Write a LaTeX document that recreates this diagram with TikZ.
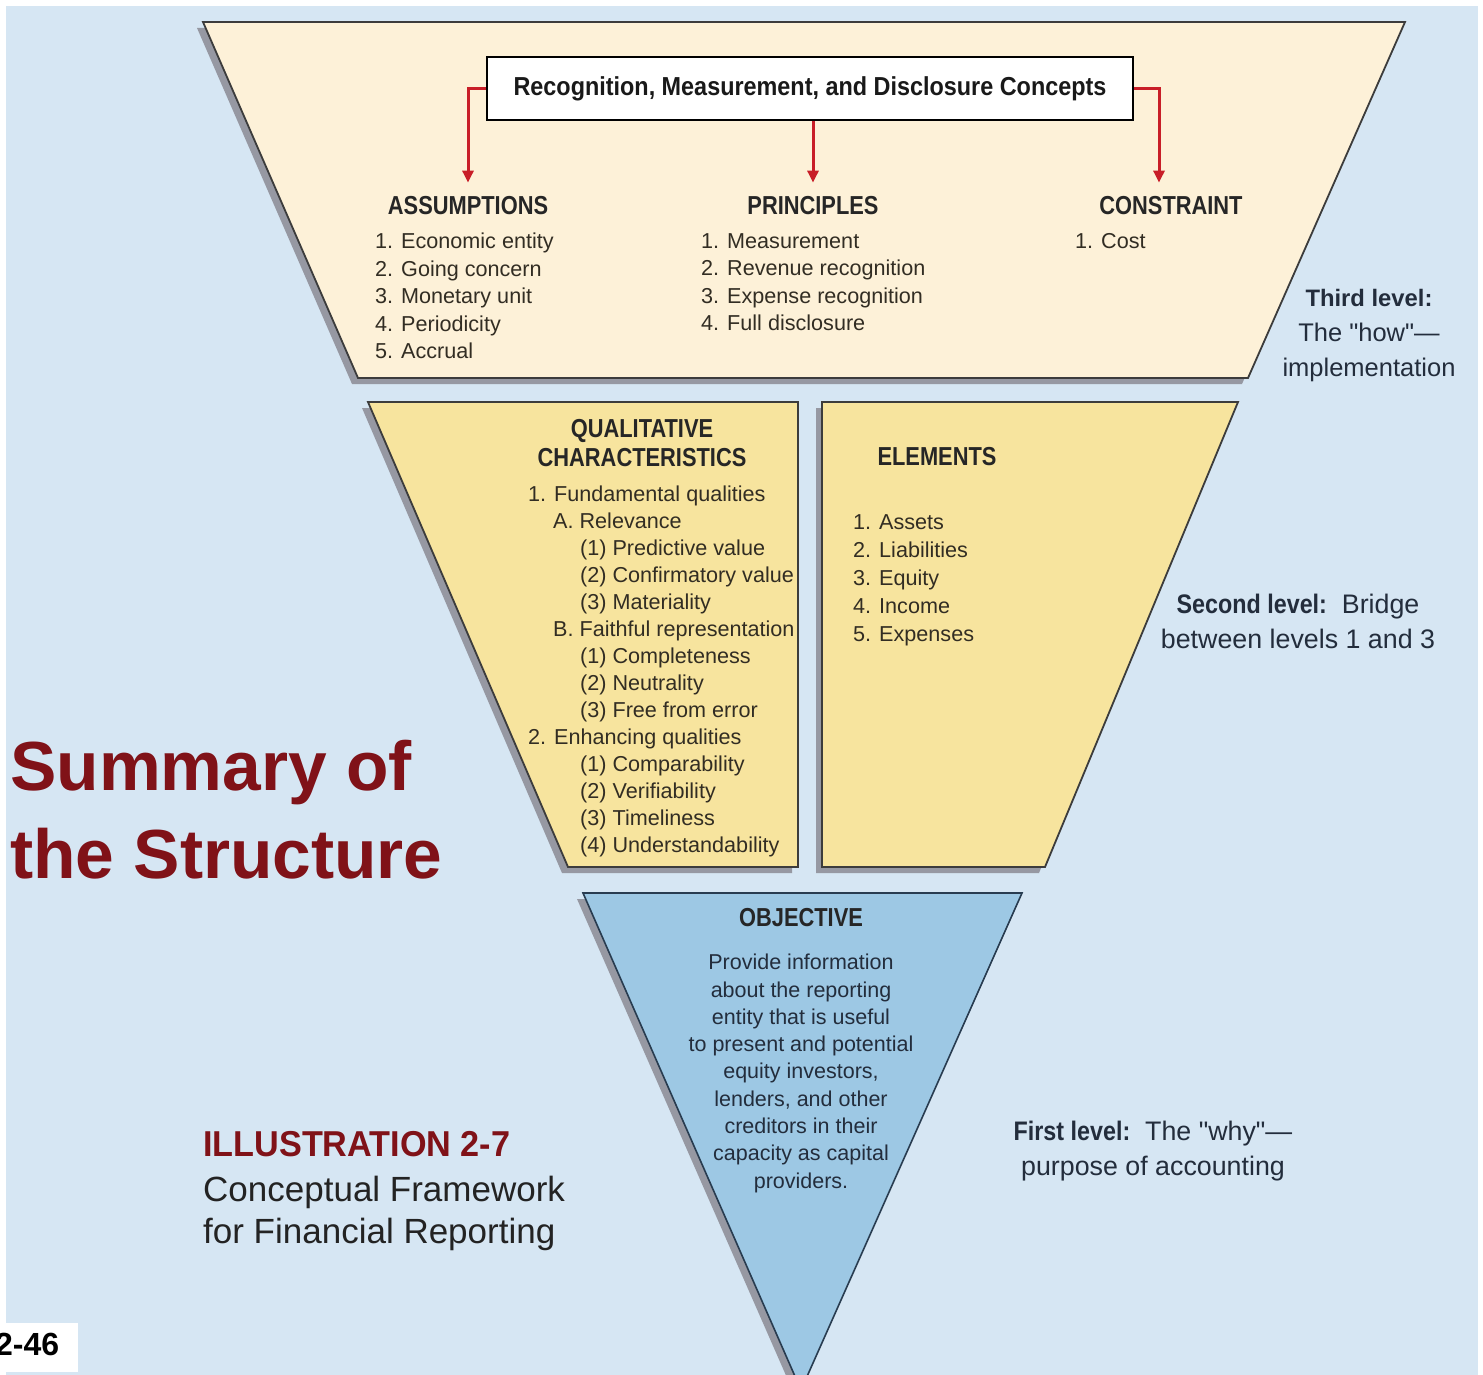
\documentclass[tikz,border=0pt]{standalone}
\usepackage{fontspec}
\setmainfont{Liberation Sans}
\newfontfamily\fbody{Liberation Sans}
\newfontfamily\fhead[FakeStretch=0.84]{Liberation Sans}
\newfontfamily\ftitle[FakeStretch=0.9]{Liberation Sans}
\newfontfamily\flevb[FakeStretch=0.87]{Liberation Sans}
\newfontfamily\fnarrow[FakeStretch=0.95]{Liberation Sans}
\usetikzlibrary{arrows.meta}
\definecolor{bgblue}{RGB}{214,230,243}
\definecolor{cream}{RGB}{253,241,216}
\definecolor{yell}{RGB}{247,228,158}
\definecolor{objblue}{RGB}{157,200,228}
\definecolor{shad}{RGB}{150,152,162}
\definecolor{edge}{RGB}{60,60,60}
\definecolor{objedge}{RGB}{40,60,80}
\definecolor{arrred}{RGB}{200,30,40}
\definecolor{maroon}{RGB}{128,18,24}
\definecolor{txt}{RGB}{50,45,35}
\definecolor{txtblue}{RGB}{35,45,60}
\definecolor{capt}{RGB}{35,35,35}
\begin{document}
\begin{tikzpicture}[x=1pt,y=-1pt,
  panel/.style={draw=edge,line width=1.8pt,line join=miter},
  shadowfill/.style={fill=shad},
  head/.style={font=\fhead\bfseries\fontsize{26}{29}\selectfont, inner sep=0pt, text=black!85, align=center},
  listtxt/.style={font=\fbody\fontsize{21.6}{27.5}\selectfont, inner sep=0pt, align=left, anchor=north west, text=txt},
  objtxt/.style={font=\fbody\fontsize{21.5}{27.3}\selectfont, inner sep=0pt, align=center, anchor=north, text=txtblue},
  lvlthird/.style={font=\fbody\fontsize{25.5}{35}\selectfont, inner sep=0pt, align=center, anchor=north, text=txtblue},
  lvl/.style={font=\fbody\fontsize{26.8}{34.5}\selectfont, inner sep=0pt, align=center, anchor=north, text=txtblue},
  arr/.style={draw=arrred, line width=3pt, -{Triangle[length=12pt,width=11pt]}, shorten >=14pt}
]
\useasboundingbox (0,0) rectangle (1483,1375);
% background
\fill[white] (0,0) rectangle (1483,1375);
\fill[bgblue] (6,6) rectangle (1478,1375);

% shadows
\begin{scope}[shift={(-6,6)}]
  \fill[shadowfill] (203,22) -- (1405,22) -- (1248,378) -- (358,378) -- cycle;
  \fill[shadowfill] (368,402) -- (798,402) -- (798,867) -- (568,867) -- cycle;
  \fill[shadowfill] (822,402) -- (1238,402) -- (1045,867) -- (822,867) -- cycle;
  \fill[shadowfill] (583,893) -- (1022,893) -- (801,1390) -- cycle;
\end{scope}

% panels
\filldraw[panel, fill=cream] (203,22) -- (1405,22) -- (1248,378) -- (358,378) -- cycle;
\filldraw[panel, fill=yell] (368,402) -- (798,402) -- (798,867) -- (568,867) -- cycle;
\filldraw[panel, fill=yell] (822,402) -- (1238,402) -- (1045,867) -- (822,867) -- cycle;
\filldraw[draw=objedge, line width=1.6pt, fill=objblue] (583,893) -- (1022,893) -- (801,1390) -- cycle;

% third level
\node[draw=black, line width=2.5pt, fill=white, minimum width=646pt, minimum height=63pt, inner sep=0pt,
      font=\ftitle\bfseries\fontsize{26}{30}\selectfont, text=black!90] (rmd) at (810,88.5)
      {Recognition, Measurement, and Disclosure Concepts};

\node[head] (assum) at (468,206) {ASSUMPTIONS};
\node[head] (princ) at (813,206) {PRINCIPLES};
\node[head] (constr) at (1171,206) {CONSTRAINT};

\node[listtxt] (assumlist) at (375,233) {1. Economic entity\\2. Going concern\\3. Monetary unit\\4. Periodicity\\5. Accrual};
\node[listtxt] (princlist) at (701,233) {1. Measurement\\2. Revenue recognition\\3. Expense recognition\\4. Full disclosure};
\node[listtxt] (constrlist) at (1075,233) {1. Cost};

\draw[arr] (rmd.west) -| (assum.north);
\draw[arr] (princ.north |- rmd.south) -- (princ.north);
\draw[arr] (rmd.east) -| ([xshift=-12pt]constr.north);

\node[lvlthird] (third) at (1369,289) {{\fontsize{23.8}{35}\selectfont\bfseries Third level:}\\The "how"—\\implementation};

% second level
\node[head] (qual) at (642,443) {QUALITATIVE\\CHARACTERISTICS};
\node[listtxt, font=\fbody\fontsize{21.6}{27}\selectfont] (quallist) at (528,486)
  {1. Fundamental qualities\\
   \hspace*{25pt}A. Relevance\\
   \hspace*{52pt}(1) Predictive value\\
   \hspace*{52pt}(2) Confirmatory value\\
   \hspace*{52pt}(3) Materiality\\
   \hspace*{25pt}B. Faithful representation\\
   \hspace*{52pt}(1) Completeness\\
   \hspace*{52pt}(2) Neutrality\\
   \hspace*{52pt}(3) Free from error\\
   2. Enhancing qualities\\
   \hspace*{52pt}(1) Comparability\\
   \hspace*{52pt}(2) Verifiability\\
   \hspace*{52pt}(3) Timeliness\\
   \hspace*{52pt}(4) Understandability};

\node[head] (elem) at (937,457) {ELEMENTS};
\node[listtxt, font=\fbody\fontsize{21.6}{28}\selectfont] (elemlist) at (853,514)
  {1. Assets\\2. Liabilities\\3. Equity\\4. Income\\5. Expenses};

\node[lvl] (second) at (1298,594) {{\flevb\bfseries Second level:}\ \ Bridge\\between levels 1 and 3};

% first level
\node[head] (obj) at (801,918) {OBJECTIVE};
\node[objtxt] (objlist) at (801,954)
  {Provide information\\about the reporting\\entity that is useful\\to present and potential\\equity investors,\\lenders, and other\\creditors in their\\capacity as capital\\providers.};

\node[lvl] (first) at (1153,1121) {{\flevb\bfseries First level:}\ \ The "why"—\\purpose of accounting};

% left captions
\node[anchor=base west, inner sep=0pt, font=\fbody\bfseries\fontsize{69.5}{80}\selectfont, text=maroon] (sum1) at (10,790) {Summary of};
\node[anchor=base west, inner sep=0pt, font=\fbody\bfseries\fontsize{69.5}{80}\selectfont, text=maroon] (sum2) at (10,878) {the Structure};

\node[anchor=base west, inner sep=0pt, font=\fnarrow\bfseries\fontsize{36}{40}\selectfont, text=maroon] (ill) at (203,1156) {ILLUSTRATION 2-7};
\node[anchor=base west, inner sep=0pt, font=\fbody\fontsize{35}{42}\selectfont, text=capt] (cf1) at (203,1201) {Conceptual Framework};
\node[anchor=base west, inner sep=0pt, font=\fbody\fontsize{35}{42}\selectfont, text=capt] (cf2) at (203,1243) {for Financial Reporting};

% page number
\fill[white] (0,1323) rectangle (78,1372);
\node[anchor=base west, inner sep=0pt, font=\fbody\bfseries\fontsize{32}{36}\selectfont, text=black] (pg) at (-5,1355) {2-46};
\end{tikzpicture}
\end{document}
